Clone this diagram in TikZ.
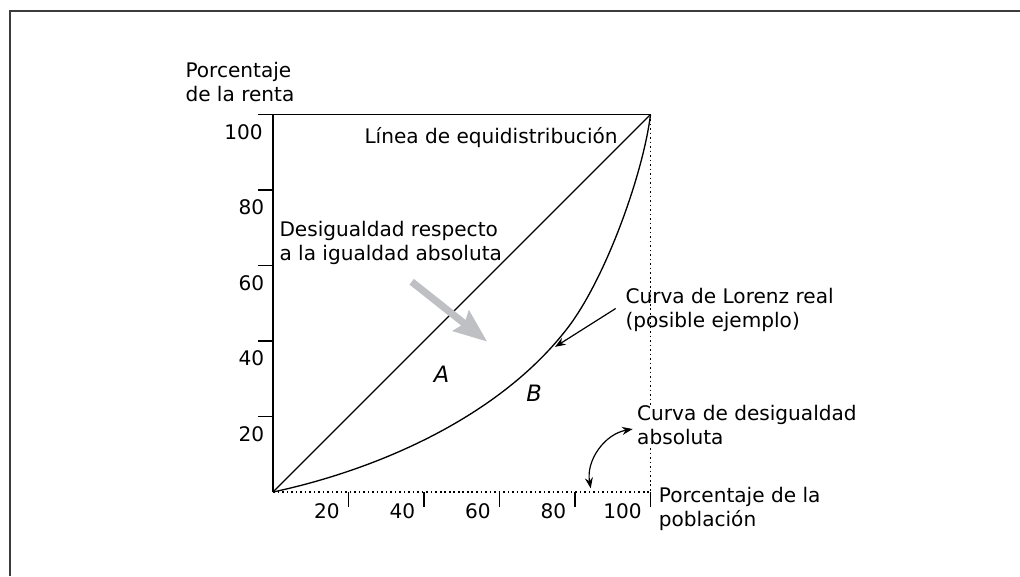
\documentclass[tikz,border=0pt]{standalone}
\usepackage{fontspec}
\setmainfont{DejaVu Sans}
\usepackage{tikz}
\usetikzlibrary{arrows.meta}

\definecolor{arrowgrey}{RGB}{190,192,196}
\definecolor{framegrey}{RGB}{60,60,60}

\begin{document}
\begin{tikzpicture}[x=1cm, y=1cm, font=\fontsize{7.57}{9.05}\selectfont]

\tikzstyle{frame_line} = [line width=0.75pt, draw=framegrey]
\tikzstyle{axis_solid} = [line width=0.45pt]
\tikzstyle{axis_dotted} = [line width=0.55pt, dash pattern=on 0.6pt off 1.1pt]
\tikzstyle{curve} = [line width=0.5pt]
\tikzstyle{tick_label} = [anchor=north east, inner sep=0pt]
\tikzstyle{label_text} = [anchor=north west, align=left, inner sep=0pt]
\tikzstyle{area_label} = [anchor=base, inner sep=0pt, font=\fontsize{8.5}{10}\selectfont\itshape]
\tikzstyle{edge} = [line width=0.45pt]
\tikzstyle{grey_arrow} = [-{Stealth[length=12.5pt, width=9.5pt, inset=1.5pt]}, line width=2.7pt, draw=arrowgrey]

\useasboundingbox (-3.616,-1.113) rectangle (9.894,6.517);
\draw[frame_line] (9.894,6.371) -- (-3.49,6.371) -- (-3.49,-1.113);

%------------------------------------------------------------
	\coordinate (o)    at (0,0);
	\coordinate (ytop) at (0,5);
	\coordinate (xend) at (5,0);
	\coordinate (c)    at (5,5);

	\draw[axis_solid] (o) -- (ytop);
	\draw[axis_solid] (-0.2,5) -- (c);
	\draw[axis_dotted] (o) -- (xend);
	\draw[axis_dotted] (c) -- (xend);

%------------------------------------------------------------
	\draw[axis_solid] (-0.2,1) -- (0,1);
	\draw[axis_solid] (-0.2,2) -- (0,2);
	\draw[axis_solid] (-0.2,3) -- (0,3);
	\draw[axis_solid] (-0.2,4) -- (0,4);

	\node[tick_label] (y20)  at (-0.11,0.88) {20};
	\node[tick_label] (y40)  at (-0.11,1.88) {40};
	\node[tick_label] (y60)  at (-0.11,2.88) {60};
	\node[tick_label] (y80)  at (-0.11,3.88) {80};
	\node[tick_label] (y100) at (-0.13,4.88) {100};

%------------------------------------------------------------
	\draw[axis_solid] (1,0) -- (1,-0.2);
	\draw[axis_solid] (2,0) -- (2,-0.2);
	\draw[axis_solid] (3,0) -- (3,-0.2);
	\draw[axis_solid] (4,0) -- (4,-0.2);
	\draw[axis_solid] (5,0) -- (5,-0.2);

	\node[tick_label] (x20)  at (0.89,-0.15) {20};
	\node[tick_label] (x40)  at (1.89,-0.15) {40};
	\node[tick_label] (x60)  at (2.89,-0.15) {60};
	\node[tick_label] (x80)  at (3.89,-0.15) {80};
	\node[tick_label] (x100) at (4.89,-0.15) {100};

%------------------------------------------------------------
	\draw[curve] (o) -- (c);
	\draw[curve] (o) .. controls (1.4,0.3) and (3.0,1.0) .. (3.9,2.17)
	                 .. controls (4.4,2.82) and (4.9,4.2) .. (c);

%------------------------------------------------------------
	\node[label_text] (renta) at (-1.166,5.699) {Porcentaje\\de la renta};
	\node[anchor=base west, inner sep=0pt] (equi) at (1.205,4.618) {Línea de equidistribución};
	\node[label_text] (desig) at (0.079,3.590) {Desigualdad respecto\\a la igualdad absoluta};
	\node[area_label] (A) at (2.234,1.457) {A};
	\node[area_label] (B) at (3.457,1.205) {B};
	\node[label_text] (lorenz) at (4.662,2.701) {Curva de Lorenz real\\(posible ejemplo)};
	\node[label_text, fill=white] (absol) at (4.817,1.156) {Curva de desigualdad\\absoluta};
	\node[label_text] (pobl) at (5.104,0.074) {Porcentaje de la\\población};

%------------------------------------------------------------
	\coordinate (greystart) at (1.837,2.785);
	\coordinate (greyend)   at (2.838,1.991);
	\coordinate (lorenzpt)  at (3.735,1.922);
	\coordinate (absolpt)   at (4.208,0.049);

	\draw[grey_arrow] (greystart) -- (greyend);
	\draw[edge, -{Stealth[length=4pt, width=3pt]}] ([xshift=-3.5pt, yshift=0.7pt]lorenz.west) -- (lorenzpt);
	\draw[edge, {Stealth[length=4pt, width=3pt]}-{Stealth[length=4pt, width=3pt]}] (absolpt) to[out=100, in=190] ([xshift=-1.5pt, yshift=-1.5pt]absol.west);

\end{tikzpicture}
\end{document}
